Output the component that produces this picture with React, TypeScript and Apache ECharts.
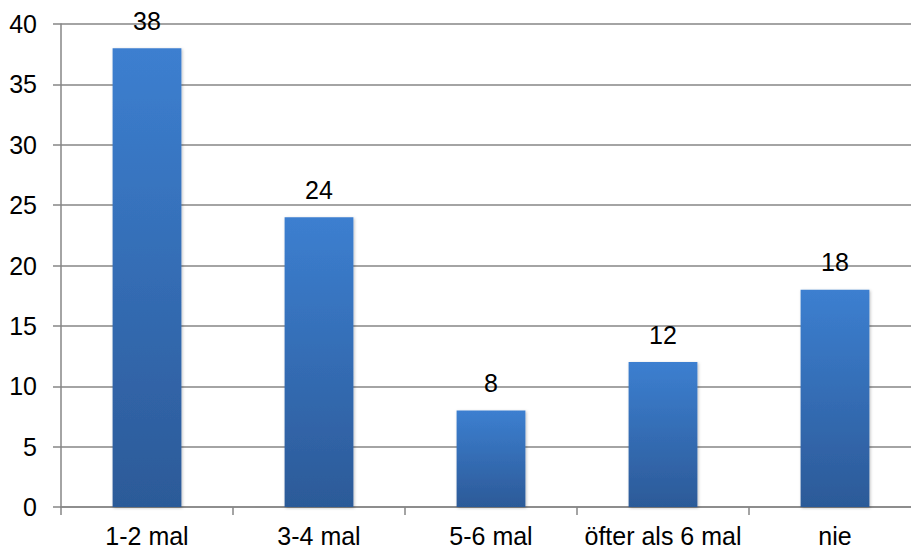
import React, { useEffect, useRef } from "react";
import * as echarts from "echarts";

const categories = ["1-2 mal", "3-4 mal", "5-6 mal", "öfter als 6 mal", "nie"];
const values = [38, 24, 8, 12, 18];
const yTicks = { min: 0, max: 40, interval: 5 };

const FONT = "'Liberation Sans', Arial, sans-serif";

export default function App() {
  const ref = useRef<HTMLDivElement>(null);
  useEffect(() => {
    const chart = echarts.init(ref.current!, undefined, { renderer: "svg" });
    const axisColor = "#868686";
    chart.setOption({
      animation: false,
      backgroundColor: "#ffffff",
      grid: { left: 61, right: 10, top: 24, bottom: 45, containLabel: false },
      xAxis: {
        type: "category",
        data: categories,
        boundaryGap: true,
        axisLine: { show: true, lineStyle: { color: axisColor, width: 1.5 } },
        axisTick: { show: true, length: 8, lineStyle: { color: axisColor, width: 1.5 } },
        axisLabel: {
          color: "#000",
          fontSize: 25,
          fontFamily: FONT,
          margin: 16,
          interval: 0,
        },
      },
      yAxis: {
        type: "value",
        min: yTicks.min,
        max: yTicks.max,
        interval: yTicks.interval,
        axisLine: { show: true, lineStyle: { color: axisColor, width: 1.5 } },
        axisTick: { show: true, length: 8, lineStyle: { color: axisColor, width: 1.5 } },
        splitLine: { show: true, lineStyle: { color: axisColor, width: 1.5 } },
        axisLabel: {
          color: "#000",
          fontSize: 25,
          fontFamily: FONT,
          margin: 24,
        },
      },
      series: [
        {
          type: "bar",
          data: values,
          barWidth: "40%",
          itemStyle: {
            color: new echarts.graphic.LinearGradient(0, 0, 0, 1, [
              { offset: 0, color: "#3c7fd0" },
              { offset: 1, color: "#2c5a98" },
            ]),
            shadowColor: "rgba(0,0,0,0.25)",
            shadowBlur: 3,
            shadowOffsetX: 1,
            shadowOffsetY: 1,
          },
          label: {
            show: true,
            position: "top",
            distance: 15,
            color: "#000",
            fontSize: 25,
            fontFamily: FONT,
          },
        },
      ],
    });
    return () => chart.dispose();
  }, []);
  return (
    <div
      style={{
        position: "absolute",
        left: 0,
        top: 0,
        width: 911,
        height: 552,
        overflow: "hidden",
      }}
    >
      <div ref={ref} style={{ width: 931, height: 552 }} />
    </div>
  );
}
